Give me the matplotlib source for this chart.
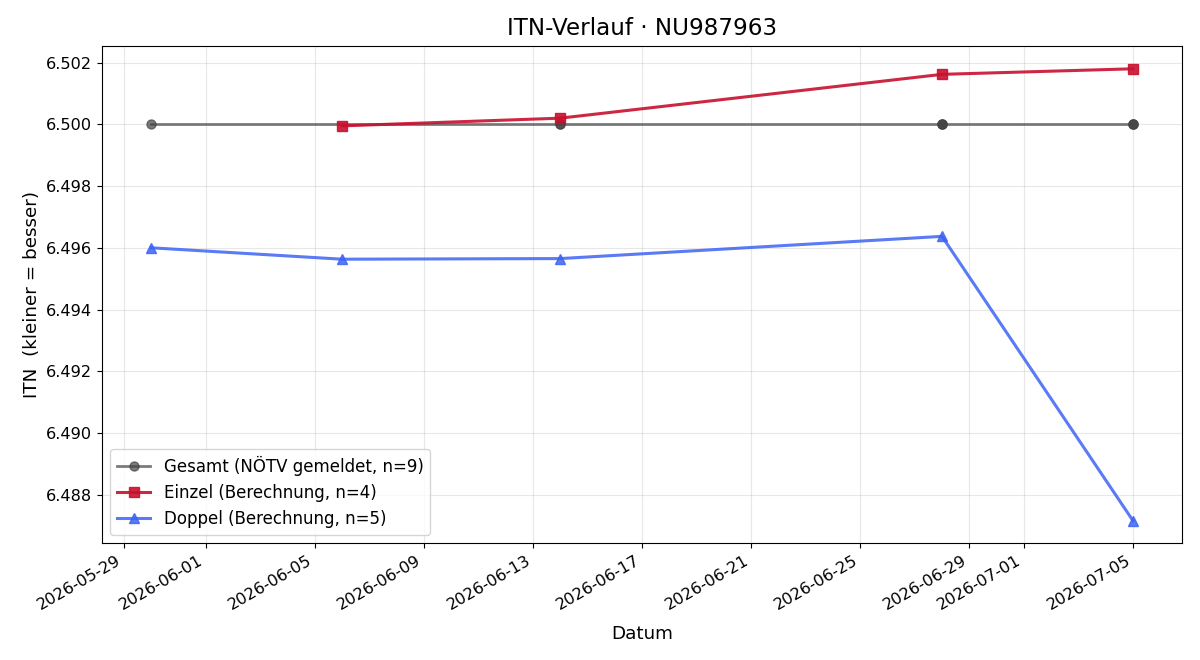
import matplotlib
matplotlib.use("Agg")
import matplotlib.pyplot as plt
import pandas as pd

gesamt_dates = ["2026-05-30", "2026-06-14", "2026-06-14", "2026-06-28", "2026-06-28",
                "2026-06-28", "2026-07-05", "2026-07-05", "2026-07-05"]
gesamt_vals = [6.500, 6.500, 6.500, 6.500, 6.500, 6.500, 6.500, 6.500, 6.500]

einzel_dates = ["2026-06-06", "2026-06-14", "2026-06-28", "2026-07-05"]
einzel_vals = [6.49995, 6.5002, 6.50162, 6.50180]

doppel_dates = ["2026-05-30", "2026-06-06", "2026-06-14", "2026-06-28", "2026-07-05"]
doppel_vals = [6.49600, 6.49563, 6.49565, 6.49637, 6.48716]

fig, ax = plt.subplots(figsize=(12, 6.6), dpi=100)

ax.plot(pd.to_datetime(gesamt_dates), gesamt_vals, marker="o", color="#444444", alpha=0.7,
        linewidth=2, markersize=6.5, label="Gesamt (NÖTV gemeldet, n=9)")
ax.plot(pd.to_datetime(einzel_dates), einzel_vals, marker="s", color="#c8102e", alpha=0.9,
        linewidth=2.2, markersize=7.5, label="Einzel (Berechnung, n=4)")
ax.plot(pd.to_datetime(doppel_dates), doppel_vals, marker="^", color="#3d63f5", alpha=0.85,
        linewidth=2.2, markersize=7.5, label="Doppel (Berechnung, n=5)")

ax.set_title("ITN-Verlauf · NU987963", fontsize=16.6, pad=8)
ax.set_xlabel("Datum", fontsize=13.2, labelpad=9)
ax.set_ylabel("ITN  (kleiner = besser)", fontsize=13.2)
ax.tick_params(labelsize=11.6)
ax.grid(True, alpha=0.3)
ax.legend(loc="lower left", fontsize=12)
fig.autofmt_xdate()
fig.subplots_adjust(left=0.085, right=0.985, top=0.930, bottom=0.177)
fig.savefig("out.png", dpi=100)
